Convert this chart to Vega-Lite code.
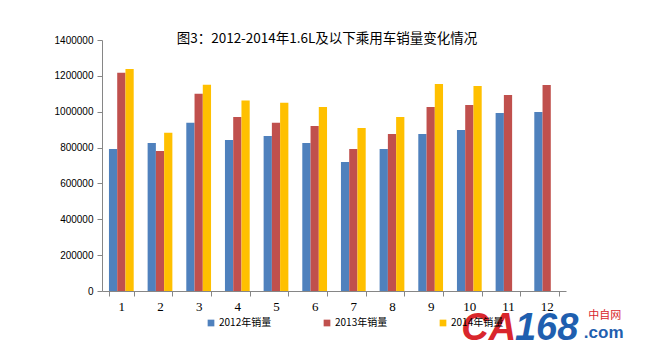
{
  "$schema": "https://vega.github.io/schema/vega-lite/v6.json",
  "width": 464,
  "height": 251,
  "autosize": {"type": "none"},
  "padding": {"left": 102, "top": 40, "right": 79, "bottom": 64},
  "background": "white",
  "title": {
    "text": "图3：2012-2014年1.6L及以下乘用车销量变化情况",
    "font": "Noto Sans CJK SC",
    "fontSize": 13.5,
    "fontWeight": "normal",
    "color": "#000000",
    "anchor": "middle",
    "baseline": "bottom",
    "offset": 0,
    "dy": 24,
    "dx": -7
  },
  "config": {
    "view": {"stroke": null},
    "font": "Liberation Sans",
    "axisX": {
      "title": null,
      "labelAngle": 0,
      "labelFont": "Liberation Serif",
      "labelFontSize": 13,
      "labelColor": "#000000",
      "labelPadding": 4,
      "domainColor": "#868686",
      "tickColor": "#868686",
      "tickSize": 5,
      "tickBand": "extent"
    },
    "axisY": {
      "title": null,
      "grid": false,
      "labelOverlap": false,
      "labelFont": "Liberation Sans",
      "labelFontSize": 10,
      "labelColor": "#000000",
      "labelPadding": 4,
      "domainColor": "#868686",
      "tickColor": "#868686",
      "tickSize": 5
    }
  },
  "datasets": {
    "sales": [
      {"month": "1", "series": "2012年销量", "value": 792000},
      {"month": "1", "series": "2013年销量", "value": 1217000},
      {"month": "1", "series": "2014年销量", "value": 1238000},
      {"month": "2", "series": "2012年销量", "value": 825000},
      {"month": "2", "series": "2013年销量", "value": 781000},
      {"month": "2", "series": "2014年销量", "value": 883000},
      {"month": "3", "series": "2012年销量", "value": 939000},
      {"month": "3", "series": "2013年销量", "value": 1100000},
      {"month": "3", "series": "2014年销量", "value": 1151000},
      {"month": "4", "series": "2012年销量", "value": 842000},
      {"month": "4", "series": "2013年销量", "value": 970000},
      {"month": "4", "series": "2014年销量", "value": 1062000},
      {"month": "5", "series": "2012年销量", "value": 865000},
      {"month": "5", "series": "2013年销量", "value": 939000},
      {"month": "5", "series": "2014年销量", "value": 1050000},
      {"month": "6", "series": "2012年销量", "value": 825000},
      {"month": "6", "series": "2013年销量", "value": 920000},
      {"month": "6", "series": "2014年销量", "value": 1026000},
      {"month": "7", "series": "2012年销量", "value": 720000},
      {"month": "7", "series": "2013年销量", "value": 792000},
      {"month": "7", "series": "2014年销量", "value": 909000},
      {"month": "8", "series": "2012年销量", "value": 792000},
      {"month": "8", "series": "2013年销量", "value": 876000},
      {"month": "8", "series": "2014年销量", "value": 970000},
      {"month": "9", "series": "2012年销量", "value": 876000},
      {"month": "9", "series": "2013年销量", "value": 1026000},
      {"month": "9", "series": "2014年销量", "value": 1155000},
      {"month": "10", "series": "2012年销量", "value": 898000},
      {"month": "10", "series": "2013年销量", "value": 1037000},
      {"month": "10", "series": "2014年销量", "value": 1143000},
      {"month": "11", "series": "2012年销量", "value": 993000},
      {"month": "11", "series": "2013年销量", "value": 1093000},
      {"month": "12", "series": "2012年销量", "value": 998000},
      {"month": "12", "series": "2013年销量", "value": 1149000}
    ],
    "mark": [
      {"month": "12", "value": -210000, "label": "CA", "part": "ca"},
      {"month": "12", "value": -210000, "label": "168", "part": "num"},
      {"month": "12", "value": -232000, "label": ".com", "part": "com"},
      {"month": "12", "value": -140000, "label": "中自网", "part": "cn"}
    ]
  },
  "encoding": {
    "x": {
      "field": "month",
      "type": "nominal",
      "scale": {"domain": ["1","2","3","4","5","6","7","8","9","10","11","12"], "paddingInner": 0.36, "paddingOuter": 0.18}
    },
    "y": {
      "field": "value",
      "type": "quantitative",
      "scale": {"domain": [0, 1400000], "nice": false, "zero": true},
      "axis": {
        "values": [0, 200000, 400000, 600000, 800000, 1000000, 1200000, 1400000],
        "format": "d"
      }
    }
  },
  "layer": [
    {
      "data": {"name": "sales"},
      "mark": {"type": "bar"},
      "encoding": {
        "xOffset": {
          "field": "series",
          "type": "nominal",
          "sort": ["2012年销量", "2013年销量", "2014年销量"],
          "scale": {"paddingInner": 0, "paddingOuter": 0}
        },
        "color": {
          "field": "series",
          "type": "nominal",
          "sort": ["2012年销量", "2013年销量", "2014年销量"],
          "scale": {"range": ["#4F81BD", "#C0504D", "#FFC000"]},
          "legend": {
            "title": null,
            "orient": "none",
            "direction": "horizontal",
            "legendX": 104,
            "legendY": 278,
            "symbolType": "square",
            "symbolSize": 45,
            "symbolStrokeWidth": 0,
            "labelFont": "Noto Sans CJK SC",
            "labelFontSize": 10,
            "labelColor": "#000000",
            "labelOffset": 3,
            "columnPadding": 50
          }
        }
      }
    },
    {
      "data": {"name": "mark"},
      "transform": [{"filter": "datum.part == 'ca'"}],
      "mark": {"type": "text", "clip": false, "fontSize": 38, "fontWeight": "bold", "fontStyle": "italic", "font": "Liberation Sans", "baseline": "middle", "align": "center", "dx": -58, "color": "#D9262C"},
      "encoding": {"text": {"field": "label"}}
    },
    {
      "data": {"name": "mark"},
      "transform": [{"filter": "datum.part == 'num'"}],
      "mark": {"type": "text", "clip": false, "fontSize": 38, "fontWeight": "bold", "fontStyle": "italic", "font": "Liberation Sans", "baseline": "middle", "align": "center", "dx": 0, "color": "#1F5FAF"},
      "encoding": {"text": {"field": "label"}}
    },
    {
      "data": {"name": "mark"},
      "transform": [{"filter": "datum.part == 'com'"}],
      "mark": {"type": "text", "clip": false, "fontSize": 17, "fontWeight": "bold", "font": "Liberation Sans", "baseline": "middle", "align": "center", "dx": 57, "color": "#1F5FAF"},
      "encoding": {"text": {"field": "label"}}
    },
    {
      "data": {"name": "mark"},
      "transform": [{"filter": "datum.part == 'cn'"}],
      "mark": {"type": "text", "clip": false, "fontSize": 11, "font": "Noto Sans CJK SC", "baseline": "middle", "align": "center", "dx": 58, "color": "#D9262C"},
      "encoding": {"text": {"field": "label"}}
    }
  ]
}
